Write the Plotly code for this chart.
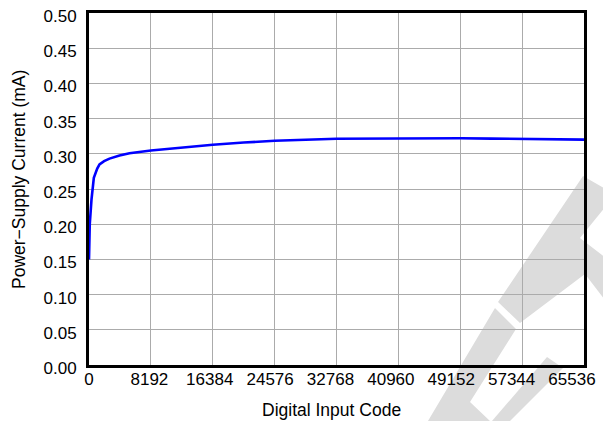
import plotly.graph_objects as go

# ---- data ----
codes = [0, 100, 330, 640, 1090, 1390, 2000, 2714, 4038, 5362, 8192, 12048,
         16384, 20480, 24576, 32768, 40960, 49152, 53248, 57344, 61440, 65536]
current_mA = [0.150, 0.200, 0.235, 0.266, 0.279, 0.285, 0.2895, 0.2932, 0.2975,
              0.3008, 0.3046, 0.3088, 0.3128, 0.3160, 0.3185, 0.3213, 0.3220,
              0.3220, 0.3216, 0.3208, 0.3204, 0.3202]

x_ticks = [0, 8192, 16384, 24576, 32768, 40960, 49152, 57344, 65536]
x_tick_labels = [str(v) for v in x_ticks]
y_ticks = [round(0.05 * i, 2) for i in range(11)]
y_tick_labels = [f"{v:.2f}" for v in y_ticks]

x_title = "Digital Input Code"
y_title = "Power\u2212Supply Current (mA)"

# ---- layout geometry (page body has an 8px margin) ----
OFF = 8
W, H = 611 - OFF, 421 - OFF
PL, PR, PT, PB = 89, 584, 13, 365          # plot box in window pixels
L, T = PL - OFF, PT - OFF
R, B = W - (PR - OFF), H - (PB - OFF)
PW, PH = PR - PL, PB - PT

FONT = "Arial, 'Liberation Sans', Helvetica, sans-serif"


def to_paper(x, y):
    return (x - PL) / PW, (PB - y) / PH


def path_from(pts):
    p = [to_paper(x, y) for x, y in pts]
    return "M " + " L ".join(f"{a:.4f},{b:.4f}" for a, b in p) + " Z"


# watermark (decorative logo fragments, window-pixel outlines)
wm_polys = [
    [(583, 176), (611, 192), (611, 200), (580, 238), (611, 262), (611, 308),
     (585, 274), (520, 323), (498, 302)],
    [(495, 308), (516, 329), (470, 402), (490, 421), (428, 421)],
    [(547, 357), (563, 368), (510, 421), (492, 421)],
]

fig = go.Figure()

fig.add_trace(go.Scatter(
    x=codes, y=current_mA, mode="lines",
    line=dict(color="#0000ff", width=2.6),
    hoverinfo="skip", showlegend=False,
))

# invisible helper trace for the label axis
fig.add_trace(go.Scatter(
    x=[x_ticks[0], x_ticks[-1]], y=[None, None], xaxis="x2",
    mode="lines", showlegend=False, hoverinfo="skip",
))

shapes = [dict(type="path", xref="paper", yref="paper", path=path_from(p),
               fillcolor="#dcdcdc", line=dict(width=0), layer="below")
          for p in wm_polys]

xt_x, xt_y = to_paper(331.5, 410)
yt_x, yt_y = to_paper(18.5, 179.5)

fig.update_layout(
    width=W, height=H,
    margin=dict(l=L, r=R, t=T, b=B, pad=0, autoexpand=False),
    paper_bgcolor="white", plot_bgcolor="rgba(0,0,0,0)",
    font=dict(family=FONT, size=17, color="black"),
    shapes=shapes,
    xaxis=dict(
        range=[0, 65536], tickvals=x_ticks, showticklabels=False,
        showgrid=True, gridcolor="#ababab", gridwidth=1,
        showline=True, linecolor="black", linewidth=3, mirror=True,
        zeroline=False, ticks="", automargin=False,
    ),
    xaxis2=dict(
        overlaying="x", anchor="y", side="bottom",
        range=[0, 65536 * PW / 483.0],
        tickvals=x_ticks, ticktext=x_tick_labels,
        showgrid=False, zeroline=False, showline=False, ticks="",
        ticklabelstandoff=2, ticklabeloverflow="allow", automargin=False,
        tickfont=dict(family=FONT, size=17, color="black"),
    ),
    yaxis=dict(
        range=[0, 0.5], tickvals=y_ticks, ticktext=y_tick_labels,
        showgrid=True, gridcolor="#ababab", gridwidth=1,
        showline=True, linecolor="black", linewidth=3, mirror=True,
        zeroline=False, ticks="", ticklabelstandoff=6, ticklabelshift=3,
        ticklabeloverflow="allow", automargin=False,
        tickfont=dict(family=FONT, size=17, color="black"),
    ),
    annotations=[
        dict(text=x_title, xref="paper", yref="paper", x=xt_x, y=xt_y,
             xanchor="center", yanchor="middle", showarrow=False,
             font=dict(family=FONT, size=17.5, color="black")),
        dict(text=y_title, xref="paper", yref="paper", x=yt_x, y=yt_y,
             textangle=-90, xanchor="center", yanchor="middle",
             showarrow=False,
             font=dict(family=FONT, size=17.5, color="black")),
    ],
)

fig.write_html("out.html")
